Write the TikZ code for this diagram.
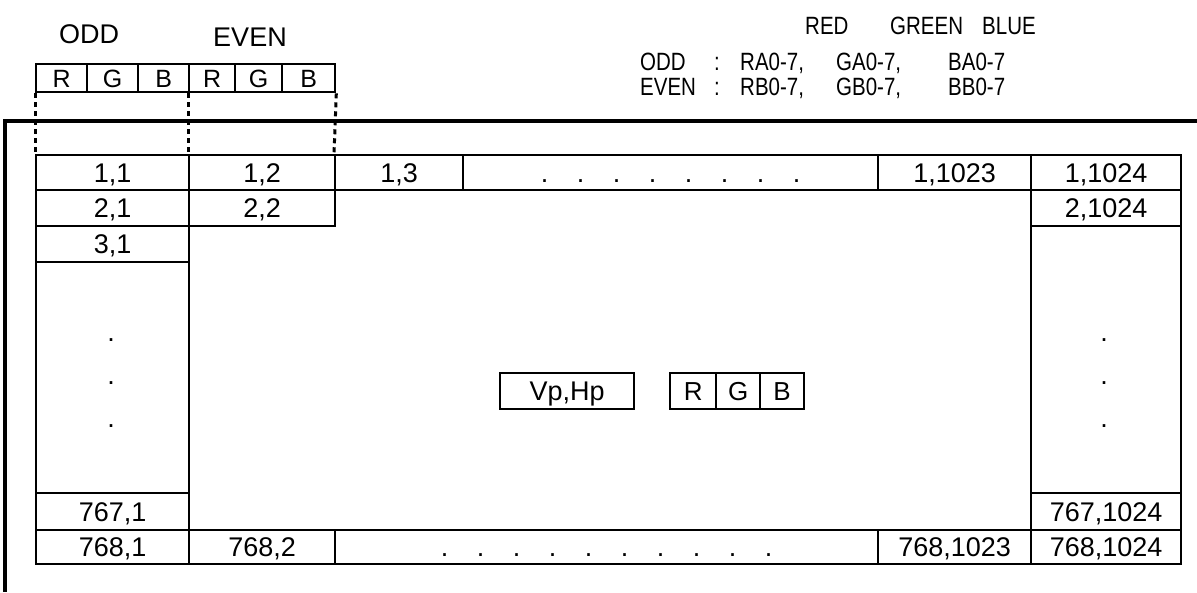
\documentclass[tikz,border=0pt]{standalone}
\usepackage{fontspec}
\setmainfont{Liberation Sans}
\newfontfamily\gridfont{Liberation Sans}
\newfontfamily\keyfont[FakeStretch=0.82]{Liberation Sans}
\newcommand{\dotgap}{\hspace{28.5pt}}
\tikzset{
  pxcell/.style 2 args={draw=black, line width=2.3pt, minimum width=#1, minimum height=#2,
    inner sep=0pt, anchor=north west, font=\gridfont\fontsize{27}{31}\selectfont,
    text height=19pt, text depth=0pt},
  pxsub/.style={font=\gridfont\fontsize{25}{29}\selectfont, text height=18pt},
  pxmid/.style={font=\gridfont\fontsize{26}{30}\selectfont, text height=18.5pt},
  pxframe/.style={line width=3.2pt, draw=black, line cap=butt},
  pxdash/.style={line width=3pt, draw=black, dash pattern=on 5pt off 4pt},
  pxhead/.style={inner sep=0pt, font=\gridfont\fontsize{27}{31}\selectfont},
  pxkey/.style={anchor=base west, inner sep=0pt, text depth=0pt,
    font=\keyfont\fontsize{25}{29}\selectfont},
  pxvdots/.style={inner sep=0pt, align=center, font=\gridfont\fontsize{27}{43}\selectfont},
}

\begin{document}
\begin{tikzpicture}[x=1pt, y=-1pt]
\useasboundingbox (0,0) rectangle (1197,592);
% outer frame
\draw[pxframe] (1197,121) -- (5,121) -- (5,592);
% odd / even pixel pair
\node[pxhead] (oddlab) at (89,34) {ODD};
\node[pxhead] (evenlab) at (250,37) {EVEN};
\node[pxcell={51pt}{28pt}, pxsub] (oddr) at (35,63) {R};
\node[pxcell={51pt}{28pt}, pxsub] (oddg) at (86,63) {G};
\node[pxcell={51pt}{28pt}, pxsub] (oddb) at (137,63) {B};
\node[pxcell={46pt}{28pt}, pxsub] (evenr) at (188,63) {R};
\node[pxcell={47pt}{28pt}, pxsub] (eveng) at (234,63) {G};
\node[pxcell={53pt}{28pt}, pxsub] (evenb) at (281,63) {B};
% key
\node[pxkey] (keyred) at (805,34) {RED};
\node[pxkey] (keygreen) at (890,34) {GREEN};
\node[pxkey] (keyblue) at (982,34) {BLUE};
\node[pxkey] (keyodd) at (640,70) {ODD};
\node[pxkey] (keyoddsep) at (714,70) {:};
\node[pxkey] (keyra) at (740,70) {RA0-7,};
\node[pxkey] (keyga) at (836,70) {GA0-7,};
\node[pxkey] (keyba) at (948,70) {BA0-7};
\node[pxkey] (keyeven) at (640,95) {EVEN};
\node[pxkey] (keyevensep) at (714,95) {:};
\node[pxkey] (keyrb) at (740,95) {RB0-7,};
\node[pxkey] (keygb) at (836,95) {GB0-7,};
\node[pxkey] (keybb) at (948,95) {BB0-7};
% row 1
\node[pxcell={153pt}{35pt}] (c11) at (35,154) {1,1};
\node[pxcell={146pt}{35pt}] (c12) at (188,154) {1,2};
\node[pxcell={128pt}{35pt}] (c13) at (334,154) {1,3};
\node[pxcell={415pt}{35pt}] (c1dots) at (462,154) {.\dotgap.\dotgap.\dotgap.\dotgap.\dotgap.\dotgap.\dotgap.};
\node[pxcell={153pt}{35pt}] (c11023) at (877,154) {1,1023};
\node[pxcell={150pt}{35pt}] (c11024) at (1030,154) {1,1024};
% rows 2 and 3
\node[pxcell={153pt}{36pt}] (c21) at (35,189) {2,1};
\node[pxcell={146pt}{36pt}] (c22) at (188,189) {2,2};
\node[pxcell={150pt}{36pt}] (c21024) at (1030,189) {2,1024};
\node[pxcell={153pt}{36pt}] (c31) at (35,225) {3,1};
% side columns
\node[pxcell={153pt}{231pt}] (cleft) at (35,261) {};
\node[pxcell={150pt}{267pt}] (cright) at (1030,225) {};
\node[pxvdots] (ldots) at (111,383) {.\\.\\.};
\node[pxvdots] (rdots) at (1104,383) {.\\.\\.};
% centre pixel
\node[pxcell={134pt}{36pt}] (vphp) at (499,372) {Vp,Hp};
\node[pxcell={46pt}{36pt}, pxmid] (pixr) at (669,372) {R};
\node[pxcell={44pt}{36pt}, pxmid] (pixg) at (715,372) {G};
\node[pxcell={44pt}{36pt}, pxmid] (pixb) at (759,372) {B};
% rows 767 and 768
\node[pxcell={153pt}{37pt}] (c7671) at (35,492) {767,1};
\node[pxcell={150pt}{37pt}] (c7671024) at (1030,492) {767,1024};
\node[pxcell={153pt}{34pt}] (c7681) at (35,529) {768,1};
\node[pxcell={146pt}{34pt}] (c7682) at (188,529) {768,2};
\node[pxcell={543pt}{34pt}] (c768dots) at (334,529) {.\dotgap.\dotgap.\dotgap.\dotgap.\dotgap.\dotgap.\dotgap.\dotgap.\dotgap.};
\node[pxcell={153pt}{34pt}] (c7681023) at (877,529) {768,1023};
\node[pxcell={150pt}{34pt}] (c7681024) at (1030,529) {768,1024};
% dotted guides
\draw[pxdash] (oddr.south west) -- (c11.north west);
\draw[pxdash] (evenr.south west) -- (c12.north west);
\draw[pxdash] (evenb.south east) -- (c13.north west);
\end{tikzpicture}
\end{document}
